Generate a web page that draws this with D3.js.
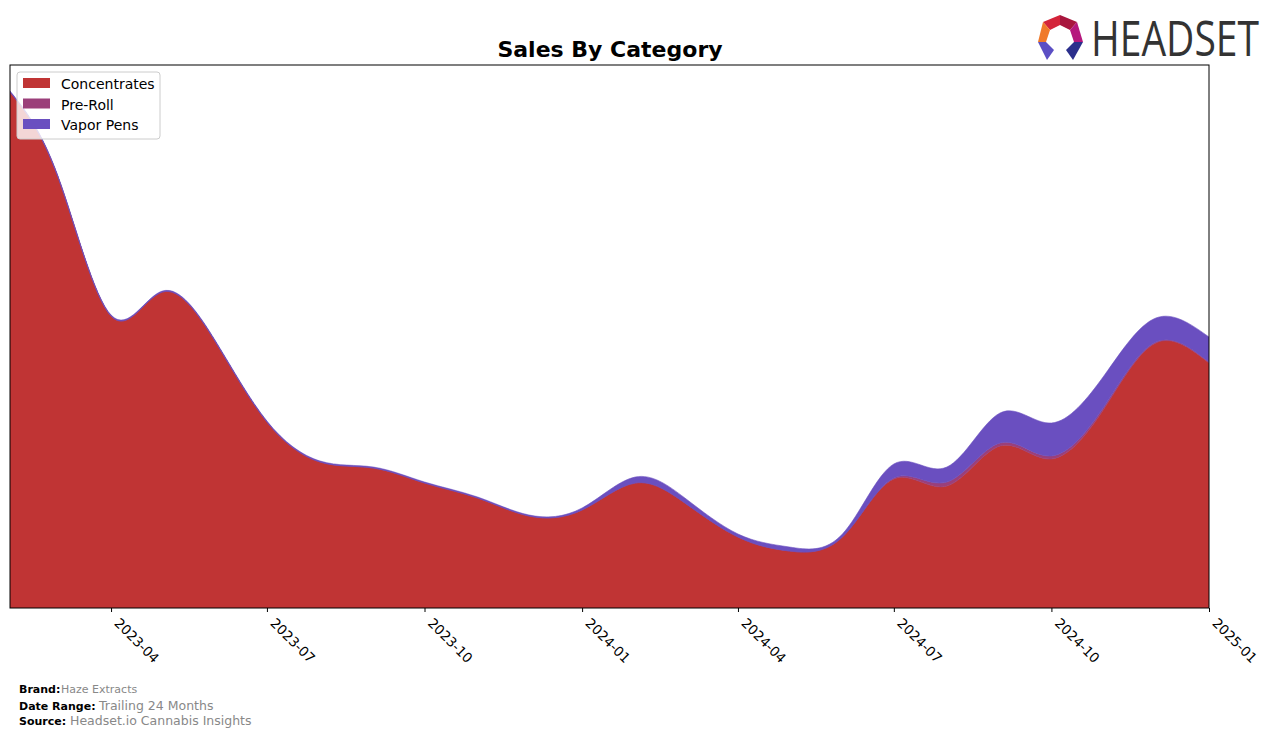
<!DOCTYPE html>
<html>
<head>
<meta charset="utf-8">
<script src="https://cdn.jsdelivr.net/npm/d3@7"></script>
<style>
  html, body { margin: 0; padding: 0; background: #fff; }
  svg { display: block; font-family: "DejaVu Sans", sans-serif; }
</style>
</head>
<body>
<svg id="chart" width="1276" height="738"></svg>
<script>
// ---- data ----
const months = ["2023-02","2023-03","2023-04","2023-05","2023-06","2023-07","2023-08","2023-09","2023-10","2023-11","2023-12",
  "2024-01","2024-02","2024-03","2024-04","2024-05","2024-06","2024-07","2024-08","2024-09","2024-10","2024-11","2024-12","2025-01"];
const concentrates = [516,431,292,316,266,186,146,140,125,110,92,98,125,105,71,57,71,129,122,162,149,200,265,245];
const preRoll      = [0,0,0,0,0,0,0,0,0,0,0,0,0,0,0,0,0,1,4,3,3,2,1,1];
const vaporPens    = [1,1,1,1,1,1,1,1,1,1,1,2,6,5,3,4,3,14,15,30,33,31,24,25];
const seriesNames = ["Concentrates","Pre-Roll","Vapor Pens"];
const seriesColors = ["#c03434","#9b3f7a","#6a4fc0"];
const tickLabels = ["2023-04","2023-07","2023-10","2024-01","2024-04","2024-07","2024-10","2025-01"];

// ---- layout ----
const svg = d3.select("#chart");
const L = 10, R = 1209, T = 65, B = 608;
const parse = d3.timeParse("%Y-%m");
const rows = months.map((m, i) => ({date: parse(m), "Concentrates": concentrates[i], "Pre-Roll": preRoll[i], "Vapor Pens": vaporPens[i]}));

const x = d3.scaleTime().domain([parse("2023-02"), parse("2025-01")]).range([L, R]);
const y = d3.scaleLinear().domain([0, 543]).range([B, T]);

const stack = d3.stack().keys(seriesNames);
const layers = stack(rows);

const area = d3.area()
  .x(d => x(d.data.date))
  .y0(d => y(d[0]))
  .y1(d => y(d[1]))
  .curve(d3.curveNatural);

svg.append("defs").append("clipPath").attr("id","clip")
  .append("rect").attr("x", L).attr("y", T).attr("width", R - L).attr("height", B - T);

const g = svg.append("g").attr("clip-path","url(#clip)");
g.selectAll("path.layer").data(layers).enter().append("path")
  .attr("class","layer")
  .attr("d", area)
  .attr("fill", (d, i) => seriesColors[i])
  .attr("stroke", (d, i) => seriesColors[i])
  .attr("stroke-width", 0.6);

// frame
svg.append("rect").attr("x", L).attr("y", T).attr("width", R - L).attr("height", B - T)
  .attr("fill","none").attr("stroke","#000").attr("stroke-width",1);

// x axis
const xAxis = d3.axisBottom(x)
  .tickValues(tickLabels.map(parse))
  .tickFormat(d3.timeFormat("%Y-%m"))
  .tickSize(4).tickPadding(4);
const ax = svg.append("g").attr("transform", `translate(0,${B})`).call(xAxis);
ax.select(".domain").remove();
ax.selectAll(".tick line").attr("stroke","#000");
ax.selectAll(".tick text")
  .attr("font-family","DejaVu Sans, sans-serif")
  .attr("font-size", 13.5)
  .attr("fill","#000")
  .attr("text-anchor","start")
  .attr("dy", null)
  .attr("y", 0)
  .attr("transform", "translate(2,16) rotate(45)");

// title
svg.append("text").attr("x", 610).attr("y", 57).attr("text-anchor","middle")
  .attr("font-size", 22).attr("font-weight","bold").attr("fill","#000").text("Sales By Category");

// legend
const lg = svg.append("g");
lg.append("rect").attr("x", 17).attr("y", 72).attr("width", 143).attr("height", 67).attr("rx", 3)
  .attr("fill","#fff").attr("fill-opacity",0.8).attr("stroke","#ccc");
seriesNames.forEach((n, i) => {
  lg.append("rect").attr("x", 23).attr("y", 78 + i * 20.5).attr("width", 27).attr("height", 10).attr("fill", seriesColors[i]);
  lg.append("text").attr("x", 61).attr("y", 89 + i * 20.5).attr("font-size", 14).attr("fill","#000").text(n);
});

// logo
const logo = svg.append("g");
const polys = [
  {p:[[1043,22],[1060,15],[1060,25],[1050,30]], c:"#d4243a"},
  {p:[[1060,15],[1077,22],[1070,30],[1060,25]], c:"#a8163e"},
  {p:[[1077,22],[1083,42],[1074,42],[1070,30]], c:"#b5187d"},
  {p:[[1043,22],[1050,30],[1046,42],[1038,42]], c:"#f07a2a"},
  {p:[[1038,42],[1046,42],[1054,50],[1047,60]], c:"#5b4fc4"},
  {p:[[1083,42],[1074,42],[1066,50],[1073,60]], c:"#2b2f8c"}
];
polys.forEach(o => logo.append("polygon").attr("points", o.p.map(q => q.join(",")).join(" ")).attr("fill", o.c));
const logoText = logo.append("text").attr("x", 0).attr("y", 0).attr("font-family","Open Sans, sans-serif")
  .attr("font-size", 50).attr("fill","#333").text("HEADSET");
const natW = logoText.node().getComputedTextLength();
logoText.attr("transform", `translate(1091,56) scale(${168 / natW},1)`);

// footer
const foot = [
  {b:"Brand:", v:"Haze Extracts", y:693, bs:11, vs:11, vx:61},
  {b:"Date Range:", v:"Trailing 24 Months", y:710, bs:11, vs:12.5, vx:99},
  {b:"Source:", v:"Headset.io Cannabis Insights", y:725, bs:11, vs:12.5, vx:70}
];
foot.forEach(f => {
  svg.append("text").attr("x", 19).attr("y", f.y).attr("font-size", f.bs).attr("font-weight","bold").attr("fill","#000").text(f.b);
  svg.append("text").attr("x", f.vx).attr("y", f.y).attr("font-size", f.vs).attr("fill","#888").text(f.v);
});
</script>
</body>
</html>
